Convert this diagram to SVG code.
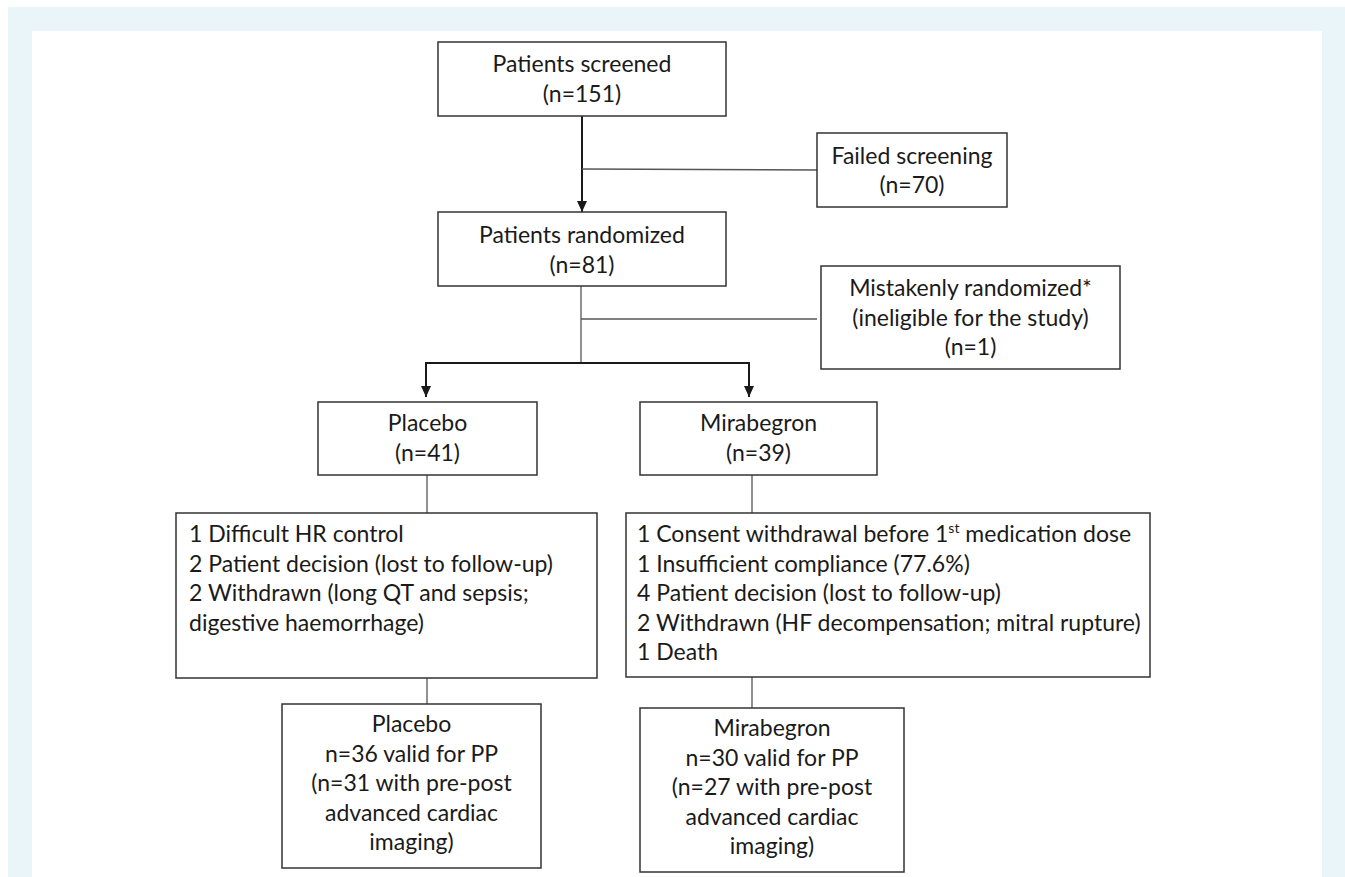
<svg xmlns="http://www.w3.org/2000/svg" width="1345" height="877" viewBox="0 0 1345 877">
<style>
.box{fill:#fff;stroke:#333;stroke-width:1.5}
.t{font-family:Lato,"Liberation Sans",sans-serif;font-size:23px;fill:#1a1a1a}
.c{text-anchor:middle}
.ln{stroke:#555;stroke-width:1.3;fill:none}
.ar{stroke:#1a1a1a;stroke-width:2;fill:none}
</style>
<defs>
<marker id="down" markerUnits="userSpaceOnUse" markerWidth="12" markerHeight="12" viewBox="0 0 12 12" refX="6" refY="11">
<path d="M1,0 L11,0 L6,11 Z" fill="#1a1a1a"/>
</marker>
</defs>
<rect x="8" y="7" width="1337" height="870" fill="#e9f5f8"/>
<rect x="32" y="31" width="1290" height="846" fill="#fff"/>

<g id="connectors">
<line class="ar" x1="582" y1="116" x2="582" y2="212" marker-end="url(#down)"/>
<line class="ln" x1="582" y1="169" x2="817" y2="170"/>
<line class="ln" x1="581" y1="286" x2="581" y2="363"/>
<line class="ln" x1="581" y1="319" x2="817" y2="319"/>
<line class="ar" x1="425" y1="363" x2="750" y2="363"/>
<line class="ar" x1="426" y1="362" x2="426" y2="397" marker-end="url(#down)"/>
<line class="ar" x1="749" y1="362" x2="749" y2="397" marker-end="url(#down)"/>
<line class="ln" x1="427" y1="475" x2="427" y2="513"/>
<line class="ln" x1="752" y1="475" x2="752" y2="513"/>
<line class="ln" x1="427" y1="678" x2="427" y2="704"/>
<line class="ln" x1="752" y1="677" x2="752" y2="708"/>
</g>

<g id="screened">
<rect class="box" x="438" y="42" width="288" height="74"/>
<text class="t c" x="582" y="72">Patients screened</text>
<text class="t c" x="582" y="101.5">(n=151)</text>
</g>

<g id="failed">
<rect class="box" x="817" y="133" width="190" height="74"/>
<text class="t c" x="912" y="164">Failed screening</text>
<text class="t c" x="912" y="193">(n=70)</text>
</g>

<g id="randomized">
<rect class="box" x="438" y="212" width="288" height="74"/>
<text class="t c" x="582" y="243">Patients randomized</text>
<text class="t c" x="582" y="272.5">(n=81)</text>
</g>

<g id="mistaken">
<rect class="box" x="821" y="266" width="299" height="103"/>
<text class="t c" x="970.5" y="296">Mistakenly randomized*</text>
<text class="t c" x="970.5" y="325.5">(ineligible for the study)</text>
<text class="t c" x="970.5" y="355">(n=1)</text>
</g>

<g id="placebo">
<rect class="box" x="318" y="402" width="219" height="73"/>
<text class="t c" x="427.5" y="431">Placebo</text>
<text class="t c" x="427.5" y="460.5">(n=41)</text>
</g>

<g id="mirabegron">
<rect class="box" x="640" y="402" width="237" height="73"/>
<text class="t c" x="758.5" y="431">Mirabegron</text>
<text class="t c" x="758.5" y="460.5">(n=39)</text>
</g>

<g id="placebo-reasons">
<rect class="box" x="176" y="513" width="421" height="165"/>
<text class="t" x="189" y="542">1 Difficult HR control</text>
<text class="t" x="189" y="571.5">2 Patient decision (lost to follow-up)</text>
<text class="t" x="189" y="601">2 Withdrawn (long QT and sepsis;</text>
<text class="t" x="189" y="630.5">digestive haemorrhage)</text>
</g>

<g id="mirabegron-reasons">
<rect class="box" x="626" y="513" width="524" height="164"/>
<text class="t" x="637" y="542">1 Consent withdrawal before 1<tspan font-size="14" dy="-9">st</tspan><tspan dy="9"> medication dose</tspan></text>
<text class="t" x="637" y="571.5">1 Insufficient compliance (77.6%)</text>
<text class="t" x="637" y="601">4 Patient decision (lost to follow-up)</text>
<text class="t" x="637" y="630.5">2 Withdrawn (HF decompensation; mitral rupture)</text>
<text class="t" x="637" y="660">1 Death</text>
</g>

<g id="placebo-pp">
<rect class="box" x="282" y="704" width="259" height="164"/>
<text class="t c" x="411.5" y="732">Placebo</text>
<text class="t c" x="411.5" y="761.5">n=36 valid for PP</text>
<text class="t c" x="411.5" y="791">(n=31 with pre-post</text>
<text class="t c" x="411.5" y="820.5">advanced cardiac</text>
<text class="t c" x="411.5" y="850">imaging)</text>
</g>

<g id="mirabegron-pp">
<rect class="box" x="640" y="708" width="264" height="164"/>
<text class="t c" x="772" y="736">Mirabegron</text>
<text class="t c" x="772" y="765.5">n=30 valid for PP</text>
<text class="t c" x="772" y="795">(n=27 with pre-post</text>
<text class="t c" x="772" y="824.5">advanced cardiac</text>
<text class="t c" x="772" y="854">imaging)</text>
</g>
</svg>
